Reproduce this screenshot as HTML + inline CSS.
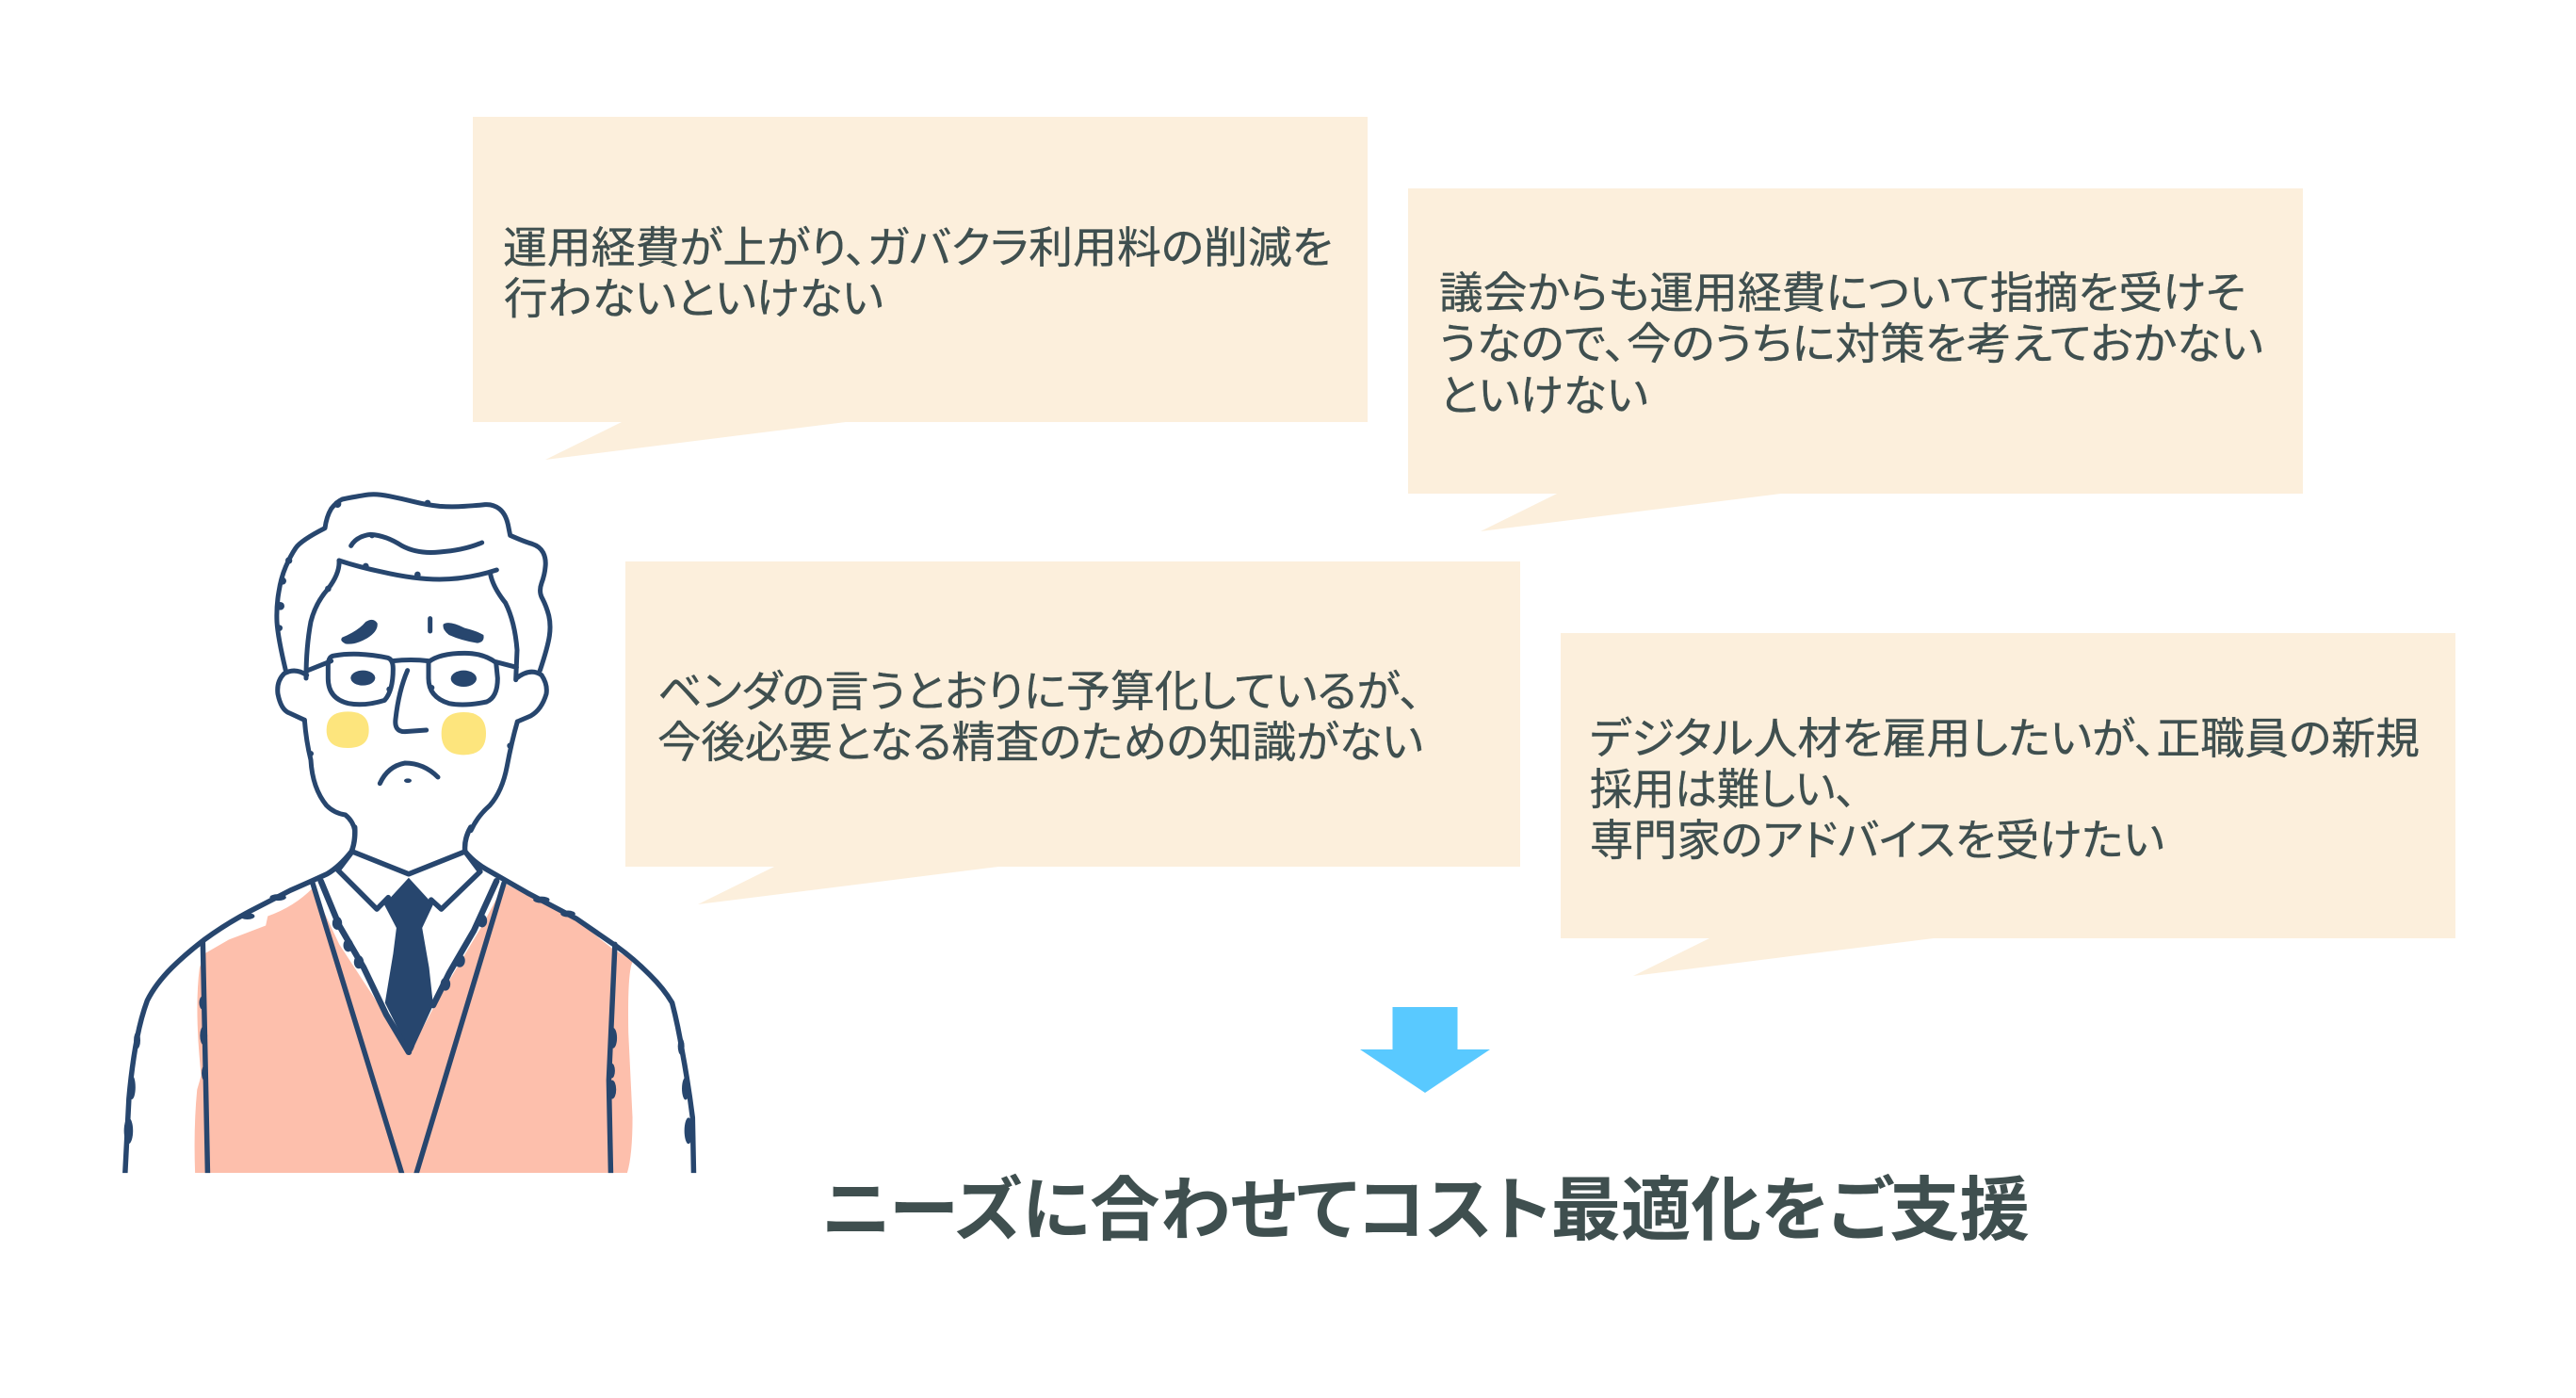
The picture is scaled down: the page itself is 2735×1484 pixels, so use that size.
<!DOCTYPE html>
<html lang="ja"><head><meta charset="utf-8"><title>ニーズに合わせてコスト最適化をご支援</title>
<style>
html,body{margin:0;padding:0;background:#fff}
svg{display:block}
.t{font-family:"Liberation Sans","Noto Sans CJK JP",sans-serif;font-size:46px;fill:#3f4f4f;font-weight:400;font-feature-settings:"palt" 1;stroke:#3f4f4f;stroke-width:.35px}
.h{font-family:"Liberation Sans","Noto Sans CJK JP",sans-serif;font-size:74px;fill:#3f4f4f;font-weight:700;font-feature-settings:"palt" 1}
.l{fill:none;stroke:#27466e;stroke-linecap:round;stroke-linejoin:round}
</style></head><body>
<svg width="2735" height="1484" viewBox="0 0 2735 1484" xmlns="http://www.w3.org/2000/svg">
<defs><clipPath id="cb"><rect x="0" y="0" width="2000" height="1498"/></clipPath></defs>
<rect width="2735" height="1484" fill="#fff"/>
<g fill="#fcefdc">
<polygon points="502,124 1452,124 1452,448 898,448 579,488 660,448 502,448"/>
<polygon points="1495,200 2445,200 2445,524 1891,524 1572,564 1653,524 1495,524"/>
<polygon points="664,596 1614,596 1614,920 1060,920 741,960 822,920 664,920"/>
<polygon points="1657,672 2607,672 2607,996 2053,996 1734,1036 1815,996 1657,996"/>
</g>
<g>
<text class="t" x="534" y="279" textLength="881" lengthAdjust="spacingAndGlyphs">運用経費が上がり、ガバクラ利用料の削減を</text>
<text class="t" x="535" y="333" textLength="403" lengthAdjust="spacingAndGlyphs">行わないといけない</text>
<text class="t" x="1528" y="327" textLength="856" lengthAdjust="spacingAndGlyphs">議会からも運用経費について指摘を受けそ</text>
<text class="t" x="1528" y="381" textLength="875" lengthAdjust="spacingAndGlyphs">うなので、今のうちに対策を考えておかない</text>
<text class="t" x="1528" y="436" textLength="222" lengthAdjust="spacingAndGlyphs">といけない</text>
<text class="t" x="698" y="750" textLength="811" lengthAdjust="spacingAndGlyphs">ベンダの言うとおりに予算化しているが、</text>
<text class="t" x="698" y="804" textLength="813" lengthAdjust="spacingAndGlyphs">今後必要となる精査のための知識がない</text>
<text class="t" x="1688" y="800" textLength="881" lengthAdjust="spacingAndGlyphs">デジタル人材を雇用したいが、正職員の新規</text>
<text class="t" x="1688" y="854" textLength="283" lengthAdjust="spacingAndGlyphs">採用は難しい、</text>
<text class="t" x="1688" y="908" textLength="610" lengthAdjust="spacingAndGlyphs">専門家のアドバイスを受けたい</text>
<text class="h" x="872" y="1310" textLength="1283" lengthAdjust="spacingAndGlyphs">ニーズに合わせてコスト最適化をご支援</text>
</g>
<polygon fill="#59c9ff" points="1478.5,1069 1547.5,1069 1547.5,1114 1582,1114 1513,1160 1444,1114 1478.5,1114"/>

<!-- body -->
<g transform="translate(100,500) scale(0.43365,0.4974)">
<g clip-path="url(#cb)">
<path fill="#fdbfac" d="M270,1030 L330,1000 L420,970 L425,950 Q490,930 535,890 L600,1010 L690,1130 L770,1245 L840,1130 L950,970 L1005,880 L1190,965 L1270,1020 L1320,1045 Q1305,1060 1308,1200 L1318,1380 Q1318,1460 1305,1498 L247,1498 Q243,1400 252,1320 L262,1290 Q245,1150 258,1060 Z"/>
<path fill="#27466e" d="M770,868 L710,925 L740,975 L732,1030 L712,1135 L755,1210 Q770,1265 785,1225 L830,1140 L820,1060 L803,975 L830,925 Z"/>
<g class="l" style="stroke-width:5.5px">
<path vector-effect="non-scaling-stroke" d="M638,760 Q640,790 630,812 Q600,845 570,860 Q520,880 480,895 L380,940 Q320,968 270,1000 Q225,1030 190,1060 Q150,1095 130,1130 Q115,1165 105,1210 Q92,1270 85,1340 L75,1510"/>
<path vector-effect="non-scaling-stroke" d="M922,760 Q905,785 908,812 Q930,835 960,850 L1060,900 L1180,955 Q1230,985 1280,1015 Q1320,1040 1360,1075 Q1395,1105 1415,1135 Q1430,1185 1440,1240 Q1455,1310 1465,1380 L1468,1510"/>
<polyline vector-effect="non-scaling-stroke" points="632,812 770,860 908,812"/>
<polyline vector-effect="non-scaling-stroke" points="632,812 597,852 692,935 720,910"/>
<polyline vector-effect="non-scaling-stroke" points="908,812 945,855 850,935 825,915"/>
<polyline vector-effect="non-scaling-stroke" points="266,1005 278,1510"/>
<polyline vector-effect="non-scaling-stroke" points="1275,1010 1260,1300 1265,1510"/>
<polyline vector-effect="non-scaling-stroke" points="535,880 757,1510"/>
<polyline vector-effect="non-scaling-stroke" points="1003,880 785,1510"/>
<polyline vector-effect="non-scaling-stroke" style="stroke-width:6.5px" points="555,875 600,970 660,1060 715,1160 770,1240"/>
<polyline vector-effect="non-scaling-stroke" style="stroke-width:6.5px" points="985,875 930,980 870,1070 830,1140"/>
</g>
<g fill="#27466e">
<ellipse cx="84" cy="1408" rx="11" ry="28"/><ellipse cx="92" cy="1315" rx="9" ry="26"/><ellipse cx="105" cy="1215" rx="8" ry="18"/>
<ellipse cx="1455" cy="1408" rx="10" ry="28"/><ellipse cx="1448" cy="1318" rx="9" ry="24"/><ellipse cx="1437" cy="1228" rx="8" ry="18"/>
<ellipse cx="268" cy="1205" rx="9" ry="20"/><ellipse cx="265" cy="1135" rx="8" ry="14"/><ellipse cx="270" cy="1285" rx="7" ry="16"/>
<ellipse cx="1270" cy="1210" rx="10" ry="22"/><ellipse cx="1268" cy="1320" rx="10" ry="20"/><ellipse cx="1267" cy="1280" rx="8" ry="16"/>
<ellipse cx="595" cy="965" rx="12" ry="14"/><ellipse cx="622" cy="1012" rx="12" ry="14"/><ellipse cx="648" cy="1048" rx="12" ry="14"/>
<ellipse cx="950" cy="960" rx="12" ry="14"/><ellipse cx="895" cy="1045" rx="13" ry="14"/><ellipse cx="860" cy="1095" rx="12" ry="14"/>
<ellipse cx="375" cy="950" rx="18" ry="7"/><ellipse cx="450" cy="910" rx="20" ry="7"/><ellipse cx="1095" cy="915" rx="20" ry="7"/><ellipse cx="1160" cy="945" rx="18" ry="7"/>
</g>
</g>
</g>

<!-- head -->
<g transform="translate(280,520) scale(0.33333)">
<path fill="#fde57d" d="M268,706 Q335,706 335,765 Q335,822 268,822 Q200,822 200,765 Q200,706 268,706 Z"/>
<path fill="#fde57d" d="M637,708 Q708,708 708,776 Q708,844 637,844 Q566,844 566,776 Q566,708 637,708 Z"/>
<g class="l" stroke-width="15">
<path d="M70,575 Q45,470 42,420 Q40,370 48,325 Q55,280 70,245 Q85,210 102,185 Q120,160 195,122 Q200,85 215,60 Q232,38 250,30 Q310,18 335,15 Q360,12 400,20 Q440,28 480,38 Q520,48 560,52 Q600,55 640,52 Q680,50 705,47 Q730,45 750,60 Q770,75 778,110 L785,145 Q830,165 855,172 Q880,180 890,200 Q900,220 897,245 Q895,270 885,297 Q875,325 888,347 Q900,370 908,400 Q915,430 910,465 Q905,500 880,575"/>
<path d="M278,178 Q295,148 340,142 Q390,145 440,178 Q490,205 560,198 Q640,192 695,168"/>
<path d="M240,225 Q300,245 380,262 Q480,285 560,285 Q650,285 742,255"/>
<path d="M240,225 Q243,265 205,315 Q165,360 150,420 Q135,500 135,600"/>
<path d="M722,268 Q730,310 770,360 Q800,420 807,510 L803,605"/>
<path d="M137,590 Q100,565 65,585 Q40,610 45,650 Q55,700 80,710 L130,733"/>
<path d="M805,600 Q850,565 885,590 Q905,620 900,650 Q885,700 850,720 L808,738"/>
<path d="M130,733 Q135,800 150,860 Q155,950 200,1005 Q225,1030 260,1035 Q285,1055 290,1085"/>
<path d="M808,738 Q790,800 775,880 Q760,960 720,1005 Q680,1040 660,1085"/>
<path d="M225,528 Q300,515 395,535 Q412,540 412,570 Q412,640 385,670 Q320,690 270,680 Q205,665 205,600 L205,560 Q205,530 225,528 Z"/>
<path d="M525,548 Q560,520 640,520 Q700,520 740,550 L745,600 Q745,660 710,675 Q640,690 590,680 Q525,660 525,600 Z"/>
<path d="M410,545 Q470,538 525,545"/>
<path d="M140,575 L215,545 M740,548 L805,565"/>
<path d="M530,410 L530,450"/>
<path d="M458,575 Q430,640 420,730 Q415,770 450,770 L518,765"/>
<path d="M370,935 Q395,880 450,870 Q510,870 555,915"/>
</g>
<g fill="#27466e">
<ellipse cx="316" cy="599" rx="39" ry="24"/>
<ellipse cx="637" cy="601" rx="41" ry="26"/>
<ellipse cx="459" cy="926" rx="12" ry="7"/>
<path d="M250,470 Q300,450 325,420 Q350,405 362,425 Q365,450 330,472 Q290,495 260,490 Q240,480 250,470 Z"/>
<path d="M572,428 Q590,415 640,440 Q680,450 700,462 Q705,485 680,488 Q630,480 590,462 Q568,445 572,428 Z"/>
<circle cx="60" cy="290" r="12"/><circle cx="53" cy="370" r="13"/><circle cx="50" cy="440" r="10"/><circle cx="80" cy="225" r="11"/>
<circle cx="235" cy="45" r="12"/><circle cx="522" cy="42" r="10"/><circle cx="345" cy="145" r="9"/><circle cx="490" cy="270" r="10"/><circle cx="325" cy="243" r="10"/>
<circle cx="205" cy="315" r="10"/><circle cx="400" cy="635" r="9"/><circle cx="535" cy="630" r="9"/><circle cx="150" cy="840" r="9"/><circle cx="785" cy="815" r="10"/>
</g>
</g>
</svg>
</body></html>
